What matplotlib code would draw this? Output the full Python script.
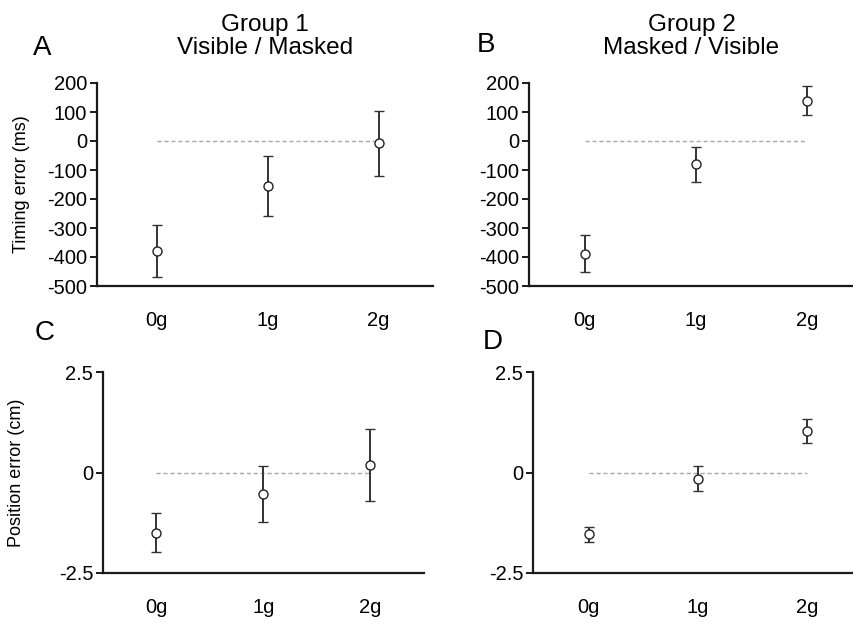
import matplotlib
matplotlib.use("Agg")
import matplotlib.pyplot as plt

plt.rcParams["font.family"] = ["Liberation Sans", "DejaVu Sans"]

# ---------------------------------------------------------------------------
# data
# ---------------------------------------------------------------------------
conditions = ["0g", "1g", "2g"]

timing_g1 = [-380, -155, -8]
timing_g1_err = [90, 103, 113]
timing_g2 = [-388, -81, 139]
timing_g2_err = [65, 62, 50]

position_g1 = [-1.50, -0.53, 0.19]
position_g1_err = [0.49, 0.69, 0.90]
position_g2 = [-1.54, -0.16, 1.03]
position_g2_err = [0.18, 0.31, 0.30]

titles = ["Group 1\nVisible / Masked", "Group 2\nMasked / Visible"]

W, H = 854, 624
fig = plt.figure(figsize=(W / 100, H / 100), dpi=100)


def px_axes(left, right, top, bottom):
    return fig.add_axes([left / W, 1 - bottom / H, (right - left) / W, (bottom - top) / H])


def draw(ax, y, err, xlim, ylim, yticks, yticklabels):
    x = list(range(len(conditions)))
    ax.plot([x[0], x[-1]], [0, 0], ls=(0, (3, 2)), color="#a8a8a8", lw=1.0, zorder=1)
    ax.errorbar(x, y, yerr=err, fmt="o", mfc="white", mec="#222222", ms=6.5,
                mew=1.0, ecolor="#333333", elinewidth=1.4, capsize=3.5,
                capthick=1.4, zorder=3)
    ax.set_xlim(*xlim)
    ax.set_ylim(*ylim)
    ax.set_xticks(x)
    ax.set_xticklabels(conditions)
    ax.set_yticks(yticks)
    ax.set_yticklabels(yticklabels)
    for s in ("top", "right"):
        ax.spines[s].set_visible(False)
    for s in ("left", "bottom"):
        ax.spines[s].set_linewidth(1.6)
        ax.spines[s].set_color("#1a1a1a")
    ax.tick_params(axis="x", length=0, pad=18, labelsize=14.5)
    ax.tick_params(axis="y", length=5, width=1.4, pad=2, labelsize=14.5,
                   color="#1a1a1a")


t_ticks = list(range(-500, 201, 100))
t_labels = [str(v) for v in t_ticks]
p_ticks = [-2.5, 0, 2.5]
p_labels = ["-2.5", "0", "2.5"]

axA = px_axes(97, 433, 83, 286)
draw(axA, timing_g1, timing_g1_err, (-0.54, 2.49), (-500, 200), t_ticks, t_labels)
axA.set_ylabel("Timing error (ms)", fontsize=13, labelpad=12)

axB = px_axes(529, 854, 83, 286)
draw(axB, timing_g2, timing_g2_err, (-0.5, 2.42), (-500, 200), t_ticks, t_labels)

axC = px_axes(103, 424, 372, 573)
draw(axC, position_g1, position_g1_err, (-0.5, 2.5), (-2.5, 2.5), p_ticks, p_labels)
axC.set_ylabel("Position error (cm)", fontsize=13, labelpad=24)

axD = px_axes(533, 854, 372, 573)
draw(axD, position_g2, position_g2_err, (-0.51, 2.43), (-2.5, 2.5), p_ticks, p_labels)

for ax, title in zip((axA, axB), titles):
    ax.set_title(title, fontsize=17.5, pad=21, linespacing=1.05)

for letter, (px, py) in zip("ABCD", [(33, 48), (477, 45), (35, 333), (483, 342)]):
    fig.text(px / W, 1 - py / H, letter, fontsize=20, ha="left", va="center")

fig.savefig("out.png", dpi=100)
